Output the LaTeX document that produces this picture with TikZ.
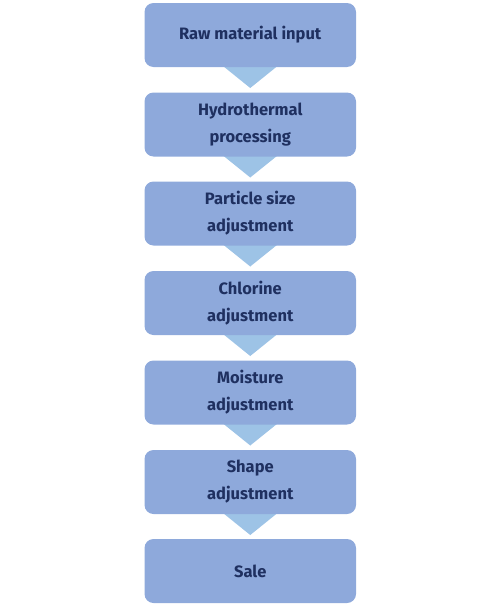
\documentclass[tikz,border=0pt]{standalone}
\usepackage{fontspec}
\setmainfont{Fira Sans}
\usetikzlibrary{calc}
\definecolor{boxfill}{HTML}{8EA9DB}
\definecolor{arrowfill}{HTML}{9DC3E6}
\definecolor{txt}{HTML}{1F3060}
\begin{document}
\begin{tikzpicture}[x=1pt,y=1pt,
  stepbox/.style={fill=boxfill,draw=none,rounded corners=9pt,minimum width=211.5pt,minimum height=64pt,
    align=center,text=txt,font=\fontsize{16.5}{27}\selectfont\bfseries,inner sep=0pt},
  chev/.style={fill=arrowfill,draw=none}]
\useasboundingbox (0,0) rectangle (500,-605);
\foreach \y [count=\i] in {35,124.5,213.5,303,392.5,482,571}{
  \coordinate (c\i) at (250.25,-\y);
}
% chevrons
\foreach \i in {1,...,6}{
  \fill[chev] ($(c\i)+(-31,-28)$) -- ($(c\i)+(31,-28)$) -- ($(c\i)+(0,-53)$) -- cycle;
}
\node[stepbox] (n1) at (c1) {Raw material input};
\node[stepbox] (n2) at (c2) {Hydrothermal\\processing};
\node[stepbox] (n3) at (c3) {Particle size\\adjustment};
\node[stepbox] (n4) at (c4) {Chlorine\\adjustment};
\node[stepbox] (n5) at (c5) {Moisture\\adjustment};
\node[stepbox] (n6) at (c6) {Shape\\adjustment};
\node[stepbox] (n7) at (c7) {Sale};
\end{tikzpicture}
\end{document}
